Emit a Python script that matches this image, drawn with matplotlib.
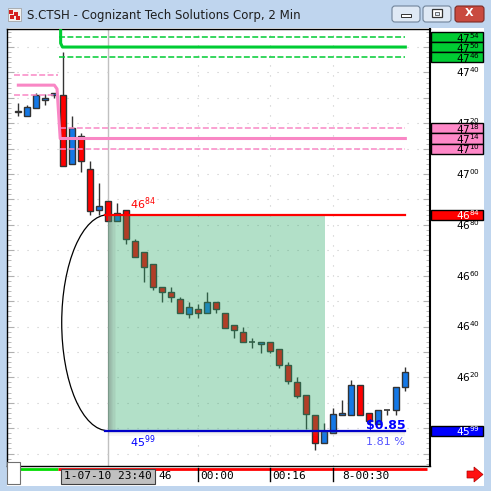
import matplotlib
matplotlib.use("Agg")
import matplotlib.pyplot as plt
import matplotlib.transforms as mtransforms
from matplotlib.patches import Rectangle, Arc, FancyBboxPatch, Polygon

# 2 min candles (prices in cents)
opens = [4725, 4723, 4726, 4729, 4731, 4731, 4704, 4715, 4702, 4686,
         4689.5, 4681.5, 4686, 4673.5, 4669.5, 4664.5, 4655.5, 4653.5, 4651, 4645,
         4647, 4645.5, 4649.5, 4645.5, 4640.5, 4638, 4634, 4633, 4634, 4631,
         4625, 4618, 4613, 4605, 4594, 4598, 4605, 4605, 4617, 4606,
         4601.5, 4607, 4607, 4616]
highs = [4728, 4727, 4732, 4731.5, 4732, 4748, 4723, 4716, 4705, 4696.5,
         4689.5, 4688.5, 4686, 4674.5, 4669.5, 4664.5, 4655.5, 4655.5, 4651.5, 4649.5,
         4649, 4653.5, 4649.5, 4645.5, 4640.5, 4640, 4635.5, 4634, 4634, 4631,
         4626, 4620, 4613, 4605, 4602, 4608, 4611, 4619, 4617, 4606,
         4607, 4607, 4616, 4624]
lows = [4723, 4723, 4726, 4727, 4730, 4703, 4704, 4701, 4684, 4684,
        4681.5, 4681.5, 4672.5, 4667.5, 4657.5, 4654.5, 4649.5, 4649.5, 4645.5, 4643.5,
        4643.5, 4645.5, 4645.5, 4639.5, 4635.5, 4634, 4631.5, 4629.5, 4629.5, 4623.5,
        4617.5, 4612, 4599.5, 4591.5, 4594, 4598, 4605, 4605, 4605, 4601.5,
        4601.5, 4605, 4605, 4614.5]
closes = [4724.5, 4726.5, 4731, 4730, 4732, 4703, 4718, 4705, 4685.5, 4687.5,
          4681.5, 4684.5, 4674.5, 4667.5, 4663.5, 4655.5, 4653.5, 4651.5, 4645.5, 4647.5,
          4645.5, 4649.5, 4647, 4639.5, 4638.5, 4634, 4634, 4634, 4630.5, 4625,
          4618.5, 4612.5, 4605.5, 4594, 4599, 4605.5, 4606, 4617, 4605, 4603,
          4607, 4607, 4616, 4622]

title = "S.CTSH - Cognizant Tech Solutions Corp, 2 Min"
green_levels = [4754, 4750, 4746]
pink_levels = [4718, 4714, 4710]
pink_prev_levels = [4739, 4735, 4731]
high_level = 4684
low_level = 4599
change_text = r"\$0.85"
pct_text = "1.81 %"
axis_labels = [4620, 4640, 4660, 4680, 4700, 4720, 4740]
time_ticks = [20, 28, 35]
time_labels = ["00:00", "00:16", "8-00:30"]
cursor_bar = 9.97
cursor_label = "1-07-10 23:40"
range_end = 34.1

RED = "#ff0000"
BLUE = "#1478e6"
EDGE = "#333333"
GREEN = "#00cc33"
PINK = "#f987c5"
MONO = "DejaVu Sans Mono"


def plab(v):
    s = str(int(v))
    return s[:2] + r"$^{" + s[2:] + "}$"


W = 491.0


def fx(p):
    return p / W


def fy(p):
    return 1 - p / W


def fig_rect(x0, y0, x1, y1, **kw):
    return Rectangle((fx(x0), fy(y1)), (x1 - x0) / W, (y1 - y0) / W,
                     transform=fig.transFigure, **kw)


fig = plt.figure(figsize=(4.91, 4.91), dpi=100, facecolor="#bfd5ee")

# window chrome
fig.patches.append(fig_rect(7, 28, 484, 486, facecolor="white", edgecolor="none", zorder=-5))
fig.patches.append(fig_rect(7, 462, 20, 484, facecolor="white", edgecolor="#707070", lw=0.8, zorder=5))
fig.text(fx(27), fy(15), title, fontsize=8.5, ha="left", va="center", color="#1e1e1e")
fig.patches.append(fig_rect(8, 8, 21, 21, facecolor="#f0f0f0", edgecolor="#999999", lw=0.5))
for (a, b) in [(9, 10), (14, 12), (10, 15), (16, 16)]:
    fig.patches.append(fig_rect(a, b, a + 4, b + 4, facecolor="#d42020", edgecolor="none"))
for x0, x1, fc, ec in [(392, 420, "#dfe9f5", "#71849a"), (423, 451, "#dfe9f5", "#71849a"),
                       (455, 484, "#c94a3f", "#7d2b25")]:
    fig.patches.append(FancyBboxPatch((fx(x0), fy(22)), (x1 - x0) / W, 16 / W,
                                      boxstyle="round,pad=0,rounding_size=0.006",
                                      transform=fig.transFigure, facecolor=fc, edgecolor=ec, lw=0.8))
fig.patches.append(fig_rect(401, 14, 411, 17, facecolor="white", edgecolor="#333333", lw=0.7))
fig.patches.append(fig_rect(432, 9, 442, 17, facecolor="white", edgecolor="#333333", lw=0.9))
fig.patches.append(fig_rect(435, 12, 439, 15, facecolor="#dfe9f5", edgecolor="#333333", lw=0.5))
fig.text(fx(469.5), fy(13.5), "X", fontsize=8, fontweight="bold", color="white", ha="center", va="center")
arrow = [(467, 471), (474, 471), (474, 467), (483, 474.5), (474, 482), (474, 478), (467, 478)]
fig.patches.append(Polygon([(fx(a), fy(b)) for a, b in arrow], closed=True, transform=fig.transFigure,
                           facecolor="#ff1010", edgecolor="#b00000", lw=0.5))

ax = fig.add_axes([7 / W, 1 - 466 / W, 423 / W, 437 / W])
ax.set_facecolor("white")
ax.set_xlim(-1.26, 45.74)
ax.set_ylim(4585.1, 4757.1)
blend_y = mtransforms.blended_transform_factory(ax.transAxes, ax.transData)
blend_x = mtransforms.blended_transform_factory(ax.transData, ax.transAxes)

ax.set_yticks(range(4590, 4760, 10))
ax.set_yticks(range(4586, 4758, 2), minor=True)
ax.set_xticks(time_ticks)
ax.tick_params(axis="y", which="both", left=True, right=True, direction="in",
               colors="#b0b0b0", labelleft=False, labelright=False)
ax.tick_params(axis="y", which="major", length=5)
ax.tick_params(axis="y", which="minor", length=3)
ax.tick_params(axis="x", length=0, labelbottom=False)
ax.grid(True, color="#c8c8c8", lw=0.8, linestyle=(0, (1, 8)))
for s in ax.spines.values():
    s.set_color("black")
    s.set_linewidth(1)
ax.spines["right"].set_linewidth(1.5)

ax.axvline(cursor_bar, color="#c0c0c0", lw=1, zorder=1)

# candles
for i, (o, h, l, c) in enumerate(zip(opens, highs, lows, closes)):
    ax.vlines(i, l, h, color=EDGE, lw=1, zorder=2)
    if c == o:
        ax.hlines(o, i - 0.32, i + 0.32, color=EDGE, lw=1.2, zorder=2)
        continue
    col = BLUE if c > o else RED
    ax.add_patch(Rectangle((i - 0.32, min(o, c)), 0.64, abs(c - o), facecolor=col,
                           edgecolor=EDGE, lw=1.0, zorder=3))

# range box
ax.add_patch(Rectangle((cursor_bar, low_level), range_end - cursor_bar, high_level - low_level,
                       facecolor=(48 / 255, 171 / 255, 107 / 255), alpha=0.37, edgecolor="none", zorder=4))
for k in range(6):
    ax.add_patch(Rectangle((cursor_bar + k * 0.15, low_level), 0.15, high_level - low_level,
                           facecolor="#606060", alpha=0.35 * (1 - k / 6), edgecolor="none", zorder=4))
for k in range(4):
    ax.add_patch(Rectangle((cursor_bar, low_level - 0.5 * (k + 1)), 43 - cursor_bar, 0.5,
                           facecolor="#808080", alpha=0.25 * (1 - k / 4), edgecolor="none", zorder=4))
ax.add_patch(Arc((cursor_bar, (high_level + low_level) / 2), 10.3, high_level - low_level,
                 theta1=90, theta2=270, color="black", lw=0.9, zorder=5))

# pivot levels
dash = (0, (3.9, 1.6))
ax.plot([4.5, 43], [green_levels[0]] * 2, color=GREEN, lw=1.1, linestyle=dash, zorder=5)
ax.plot([4.5, 43], [green_levels[2]] * 2, color=GREEN, lw=1.1, linestyle=dash, zorder=5)
ax.plot([4.7, 4.7, 4.9, 43], [4762, green_levels[1] + 1.5, green_levels[1], green_levels[1]],
        color=GREEN, lw=2.2, zorder=5)
ax.plot([-0.5, 4.4], [pink_prev_levels[0]] * 2, color=PINK, lw=1.1, linestyle=dash, zorder=5)
ax.plot([-0.5, 4.4], [pink_prev_levels[2]] * 2, color=PINK, lw=1.1, linestyle=dash, zorder=5)
ax.plot([0, 4, 4.3, 4.65, 43], [pink_prev_levels[1]] * 2 + [pink_prev_levels[1] - 1.5] + [pink_levels[1]] * 2,
        color=PINK, lw=2.2, zorder=5)
ax.plot([4.6, 43], [pink_levels[0]] * 2, color=PINK, lw=1.1, linestyle=dash, zorder=5)
ax.plot([4.6, 43], [pink_levels[2]] * 2, color=PINK, lw=1.1, linestyle=dash, zorder=5)

ax.plot([9.6, 43], [high_level] * 2, color=RED, lw=1.6, zorder=6)
ax.plot([9.6, 43], [low_level] * 2, color="#0000c8", lw=1.6, zorder=6)
ax.text(12.4, high_level + 1.0, plab(high_level), color=RED, fontsize=8, ha="left", va="bottom", zorder=7)
ax.text(12.4, low_level - 1.0, plab(low_level), color="#0000ff", fontsize=8, ha="left", va="top", zorder=7)
ax.text(43, low_level + 2.2, change_text, color="#0000ff", fontsize=9, fontweight="bold",
        ha="right", va="center", zorder=7)
ax.text(43, low_level - 4.5, pct_text, color="#5555ff", fontsize=8, ha="right", va="center", zorder=7)

# right price panel
for v in axis_labels:
    ax.text(1.118, v, plab(v), transform=blend_y, fontsize=7.5, ha="right", va="center",
            color="black", clip_on=False, zorder=1)
boxes = [(v, "#00cc33", "black") for v in green_levels] + \
        [(v, "#ff88c8", "black") for v in pink_levels] + \
        [(high_level, "#ff0000", "white"), (low_level, "#0000ff", "white")]
for v, fc, tc in boxes:
    ax.add_patch(Rectangle((1.0025, v - 2), 0.1229, 4, transform=blend_y, facecolor=fc,
                           edgecolor="black", lw=1, clip_on=False, zorder=8))
    ax.text(1.118, v - 0.3, plab(v), transform=blend_y, fontsize=7.5, ha="right", va="center",
            color=tc, clip_on=False, zorder=9)

# time axis
ax.plot([0.19, 4.4], [-0.006] * 2, color="#00dd00", lw=2, transform=blend_x, clip_on=False,
        solid_capstyle="butt")
ax.plot([4.4, 45.4], [-0.006] * 2, color=RED, lw=2, transform=blend_x, clip_on=False,
        solid_capstyle="butt")
ax.text(cursor_bar, -0.024, cursor_label, transform=blend_x, fontsize=8, family=MONO,
        ha="center", va="center",
        bbox=dict(boxstyle="square,pad=0.25", facecolor="#c0c0c0", edgecolor="#404040", lw=0.8),
        clip_on=False, zorder=9)
ax.text(15.6, -0.024, "46", transform=blend_x, fontsize=8, family=MONO, ha="left", va="center",
        clip_on=False)
for t, lbl, off in zip(time_ticks, time_labels, [0.2, 0.2, 1.0]):
    ax.plot([t, t], [-0.004, -0.034], color="black", lw=1, transform=blend_x, clip_on=False)
    ax.text(t + off, -0.024, lbl, transform=blend_x, fontsize=8, family=MONO, ha="left",
            va="center", clip_on=False)

fig.savefig("out.png", dpi=100, facecolor=fig.get_facecolor())
